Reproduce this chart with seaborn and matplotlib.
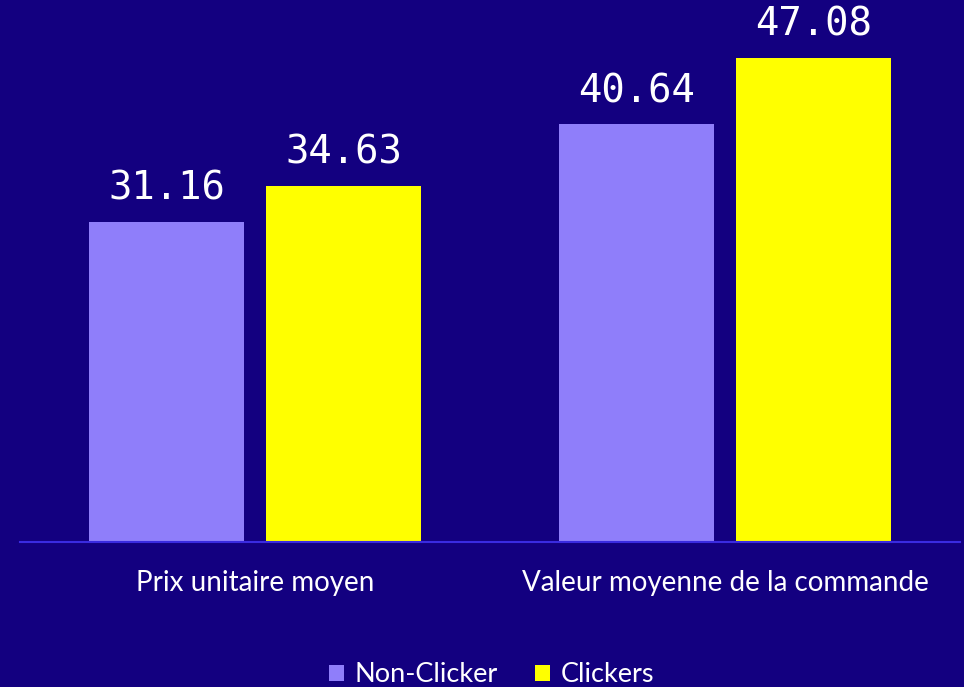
## Bar chart: average unit price and order value, clickers vs non-clickers.
import pandas as pd
import matplotlib.pyplot as plt
import seaborn as sns
from matplotlib.patches import Patch

categories = ['Prix unitaire moyen', 'Valeur moyenne de la commande']
groups = ['Non-Clicker', 'Clickers']
non_clicker = [31.16, 40.64]
clickers = [34.63, 47.08]

BG = '#130080'
colors = ['#8f7efa', '#ffff00']

df = pd.DataFrame({
    'metric': categories * 2,
    'group': [groups[0]] * 2 + [groups[1]] * 2,
    'value': non_clicker + clickers,
})

sns.set_style('white')
plt.rcParams['font.family'] = ['Lato', 'DejaVu Sans']

fig = plt.figure(figsize=(9.64, 6.87), dpi=100, facecolor=BG)
ax = fig.add_axes([20 / 964, 1 - 542 / 687, 940 / 964, 542 / 687])
ax.set_facecolor(BG)

sns.barplot(data=df, x='metric', y='value', hue='group', palette=colors,
            width=0.753, gap=0.124, ax=ax, legend=False, saturation=1,
            linewidth=0)

# Value labels above each bar.
for bar in ax.patches:
    h = bar.get_height()
    if h == 0:
        continue
    ax.annotate(f'{h:.2f}', (bar.get_x() + bar.get_width() / 2, h),
                xytext=(0, 10), textcoords='offset points', ha='center', va='bottom',
                color='white', fontsize=28, family='DejaVu Sans Mono')

ax.set_xlim(-0.5, 1.5)
ax.set_ylim(0, 52.7)
ax.set_xlabel('')
ax.set_ylabel('')
ax.set_yticks([])
for s in ['top', 'right', 'left']:
    ax.spines[s].set_visible(False)
ax.spines['bottom'].set_color('#3a2be0')
ax.spines['bottom'].set_linewidth(1.5)
ax.tick_params(axis='x', length=0, pad=20, labelsize=20, labelcolor='white')

handles = [Patch(facecolor=c, edgecolor='none', label=g) for c, g in zip(colors, groups)]
fig.legend(handles=handles, loc='lower center', bbox_to_anchor=(0.51, -0.036), ncol=2,
           frameon=False, fontsize=19.5, labelcolor='white', handlelength=0.55,
           handleheight=0.55, handletextpad=0.4, columnspacing=1.35)

plt.savefig('out.png', dpi=100, facecolor=BG)
